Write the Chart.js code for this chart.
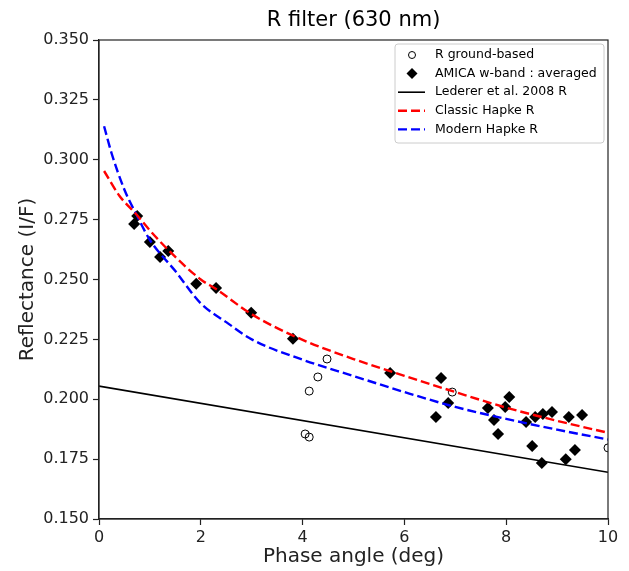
<!DOCTYPE html>
<html>
<head>
<meta charset="utf-8">
<script src="https://cdn.jsdelivr.net/npm/chart.js@4.4.1/dist/chart.umd.min.js"></script>
<style>
    html, body { margin: 0; padding: 0; background: #fff; }
    #wrap { width: 629px; height: 571px; }
</style>
</head>
<body>
<div id="wrap"><canvas id="chart"></canvas></div>
<script>
// R ground-based (open circles)
const groundX = [4.05, 4.13, 4.13, 4.30, 4.48, 6.94, 10.0];
const groundY = [0.1855, 0.1842, 0.2034, 0.2093, 0.2168, 0.2030, 0.1797];

// AMICA w-band averaged (diamonds)
const amicaX = [0.69, 0.75, 1.00, 1.20, 1.36, 1.91, 2.30, 2.99, 3.81, 5.72,
                6.62, 6.72, 6.86, 7.64, 7.76, 7.84, 7.98, 8.06, 8.39, 8.51,
                8.57, 8.70, 8.72, 8.90, 9.17, 9.23, 9.35, 9.49];
const amicaY = [0.2732, 0.2765, 0.2657, 0.2594, 0.2619, 0.2482, 0.2465, 0.2361, 0.2253, 0.2110,
                0.1926, 0.2089, 0.1984, 0.1963, 0.1913, 0.1855, 0.1968, 0.2009, 0.1905, 0.1805,
                0.1926, 0.1734, 0.1938, 0.1947, 0.1750, 0.1926, 0.1788, 0.1934];

// Lederer et al. 2008 R (straight line)
const ledererX = [0, 10];
const ledererY = [0.2055, 0.1695];

// Classic Hapke R
const classicX = [0.1, 0.4, 0.75, 1.0, 1.4, 2.0, 2.3, 3.0, 4.0, 5.0, 6.0, 7.0, 8.0, 9.0, 10.0];
const classicY = [0.2953, 0.2850, 0.2768, 0.2705, 0.2615, 0.2500, 0.2460, 0.2355, 0.2248, 0.2168, 0.2098, 0.2030, 0.1965, 0.1910, 0.1860];

// Modern Hapke R
const modernX = [0.1, 0.25, 0.5, 0.75, 1.0, 1.5, 2.0, 2.5, 3.0, 4.0, 5.0, 6.0, 7.0, 8.0, 9.0, 10.0];
const modernY = [0.3140, 0.3025, 0.2875, 0.2765, 0.2665, 0.2535, 0.2400, 0.2322, 0.2250, 0.2165, 0.2097, 0.2030, 0.1968, 0.1918, 0.1873, 0.1832];

const xTicks = [0, 2, 4, 6, 8, 10];
const yTicks = [0.150, 0.175, 0.200, 0.225, 0.250, 0.275, 0.300, 0.325, 0.350];

const TITLE = 'R filter (630 nm)';
const FONT = "'DejaVu Sans', sans-serif";

function pairs(xs, ys) {
    return xs.map((x, i) => ({ x: x, y: ys[i] }));
}

// 标题 (对齐绘图区中心) 和上/右边框
const frameBox = {
    id: 'frameBox',
    afterDatasetsDraw(chart) {
        const { ctx, chartArea: a } = chart;
        ctx.save();
        ctx.strokeStyle = '#222';
        ctx.lineWidth = 1.2;
        ctx.strokeRect(a.left, a.top, a.right - a.left, a.bottom - a.top);
        ctx.fillStyle = '#000';
        ctx.font = '21px ' + FONT;
        ctx.textAlign = 'center';
        ctx.textBaseline = 'middle';
        ctx.fillText(TITLE, (a.left + a.right) / 2, 21);
        ctx.restore();
    }
};

// 图例 (放在绘图区右上角)
const legendBox = {
    id: 'legendBox',
    afterDraw(chart) {
        const { ctx, chartArea: a } = chart;
        const w = 209, h = 99;
        const x0 = a.right - w - 4, y0 = a.top + 4;
        ctx.save();
        ctx.beginPath();
        ctx.roundRect(x0, y0, w, h, 3);
        ctx.fillStyle = 'rgba(255,255,255,0.8)';
        ctx.fill();
        ctx.strokeStyle = '#cccccc';
        ctx.lineWidth = 1;
        ctx.stroke();

        ctx.font = '12.5px ' + FONT;
        ctx.textBaseline = 'middle';
        ctx.textAlign = 'left';
        chart.data.datasets.forEach((ds, i) => {
            const cy = y0 + 11 + i * 18.6;
            const mx = x0 + 17;
            if (ds.showLine) {
                ctx.beginPath();
                ctx.setLineDash(ds.borderDash || []);
                ctx.strokeStyle = ds.borderColor;
                ctx.lineWidth = ds.borderWidth;
                ctx.moveTo(x0 + 3, cy);
                ctx.lineTo(x0 + 30, cy);
                ctx.stroke();
                ctx.setLineDash([]);
            } else {
                ctx.fillStyle = ds.pointBackgroundColor;
                ctx.strokeStyle = ds.pointBorderColor;
                ctx.lineWidth = 1;
                ctx.beginPath();
                if (ds.pointStyle === 'circle') {
                    ctx.arc(mx, cy, 3.5, 0, Math.PI * 2);
                    ctx.stroke();
                } else {
                    ctx.moveTo(mx, cy - 5.5);
                    ctx.lineTo(mx + 5.5, cy);
                    ctx.lineTo(mx, cy + 5.5);
                    ctx.lineTo(mx - 5.5, cy);
                    ctx.closePath();
                    ctx.fill();
                }
            }
            ctx.fillStyle = '#000';
            ctx.fillText(ds.label, x0 + 40, cy);
        });
        ctx.restore();
    }
};

const ctx = document.getElementById('chart').getContext('2d');
new Chart(ctx, {
    type: 'scatter',
    data: {
        datasets: [
            {
                label: 'R ground-based',
                data: pairs(groundX, groundY),
                pointStyle: 'circle',
                pointRadius: 4,
                pointBackgroundColor: 'rgba(0,0,0,0)',
                pointBorderColor: '#000',
                pointBorderWidth: 1,
                showLine: false,
                order: 2
            },
            {
                label: 'AMICA w-band : averaged',
                data: pairs(amicaX, amicaY),
                pointStyle: 'rectRot',
                pointRadius: 6,
                pointBackgroundColor: '#000',
                pointBorderColor: '#000',
                pointBorderWidth: 0,
                showLine: false,
                order: 1
            },
            {
                label: 'Lederer et al. 2008 R',
                data: pairs(ledererX, ledererY),
                showLine: true,
                borderColor: '#000',
                borderWidth: 1.6,
                pointRadius: 0,
                order: 0
            },
            {
                label: 'Classic Hapke R',
                data: pairs(classicX, classicY),
                showLine: true,
                borderColor: '#ff0000',
                borderWidth: 2.4,
                borderDash: [9, 4],
                cubicInterpolationMode: 'monotone',
                pointRadius: 0,
                order: 0
            },
            {
                label: 'Modern Hapke R',
                data: pairs(modernX, modernY),
                showLine: true,
                borderColor: '#0000ff',
                borderWidth: 2.4,
                borderDash: [9, 4],
                cubicInterpolationMode: 'monotone',
                pointRadius: 0,
                order: 0
            }
        ]
    },
    options: {
        responsive: true,
        maintainAspectRatio: false,
        animation: false,
        layout: { padding: { left: 0, right: 21, top: 40, bottom: 0 } },
        plugins: {
            legend: { display: false },
            tooltip: { enabled: false },
            title: { display: false }
        },
        scales: {
            x: {
                type: 'linear',
                min: 0,
                max: 10,
                afterFit(scale) { scale.height = 52; },
                afterBuildTicks(scale) { scale.ticks = xTicks.map(v => ({ value: v })); },
                grid: { drawOnChartArea: false, color: '#222', tickLength: 6, tickWidth: 1.2 },
                border: { color: '#222', width: 1.2 },
                ticks: {
                    color: '#222',
                    padding: 3,
                    maxRotation: 0,
                    font: { family: FONT, size: 16 },
                    callback: v => String(v)
                },
                title: {
                    display: true,
                    text: 'Phase angle (deg)',
                    color: '#222',
                    font: { family: FONT, size: 20 },
                    padding: { top: 0, bottom: 2 }
                }
            },
            y: {
                type: 'linear',
                min: 0.15,
                max: 0.35,
                afterFit(scale) { scale.width = 99; },
                afterBuildTicks(scale) { scale.ticks = yTicks.map(v => ({ value: v })); },
                grid: { drawOnChartArea: false, color: '#222', tickLength: 6, tickWidth: 1.2 },
                border: { color: '#222', width: 1.2 },
                ticks: {
                    color: '#222',
                    padding: 4,
                    font: { family: FONT, size: 16 },
                    callback: v => Number(v).toFixed(3)
                },
                title: {
                    display: true,
                    text: 'Reflectance (I/F)',
                    color: '#222',
                    font: { family: FONT, size: 20 },
                    padding: { top: 16, bottom: 0 }
                }
            }
        }
    },
    plugins: [frameBox, legendBox]
});
</script>
</body>
</html>
